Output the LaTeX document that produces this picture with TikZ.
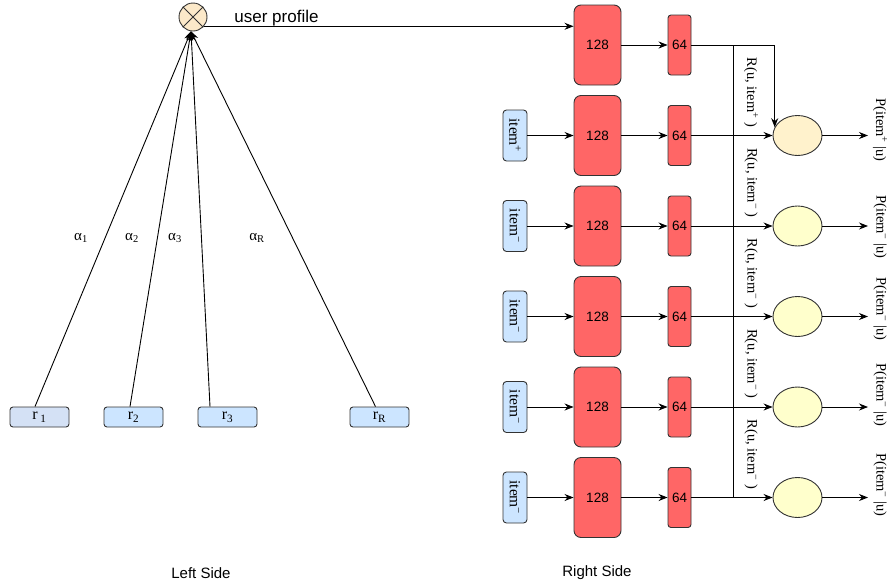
\documentclass[tikz,border=0pt]{standalone}
\usepackage{fontspec}
\setmainfont{Liberation Serif}
\setsansfont{Liberation Sans}
\usetikzlibrary{arrows.meta,calc,shapes.geometric}
\definecolor{redbox}{HTML}{FF6666}
\definecolor{bluebox}{HTML}{CCE5FF}
\definecolor{lavbox}{HTML}{D4E1F5}
\definecolor{circfill}{HTML}{FCE9C9}
\definecolor{ellorange}{HTML}{FFF2CC}
\definecolor{ellyellow}{HTML}{FFFFCC}
\definecolor{edgecol}{HTML}{333333}
\begin{document}
\begin{tikzpicture}[x=1pt,y=-1pt,line width=0.9pt,
  arr/.style={-{Stealth[length=9pt,width=7pt]}},
  bigbox/.style={draw=edgecol,fill=redbox,rounded corners=7pt,minimum width=47pt,minimum height=80pt,inner sep=0pt,font=\sffamily\fontsize{13.5}{15}\selectfont},
  smallbox/.style={draw=edgecol,fill=redbox,rounded corners=3pt,minimum width=23pt,minimum height=60pt,inner sep=0pt,font=\sffamily\fontsize{13.5}{15}\selectfont},
  itembox/.style={draw=edgecol,fill=bluebox,rounded corners=3.5pt,rotate=-90,minimum width=51pt,minimum height=24pt,inner sep=0pt,font=\fontsize{15.5}{17}\selectfont},
  rbox/.style={draw=edgecol,rounded corners=3pt,minimum width=59pt,minimum height=20pt,inner sep=0pt,font=\fontsize{16}{18}\selectfont},
  outell/.style={ellipse,draw=edgecol,minimum width=49pt,minimum height=40pt,inner sep=0pt},
  lab/.style={rotate=-90,font=\fontsize{14.5}{16}\selectfont,inner sep=0pt},
  alab/.style={font=\fontsize{15}{17}\selectfont,inner sep=0pt},
  side/.style={font=\sffamily\fontsize{15}{17}\selectfont,inner sep=0pt}
]
\useasboundingbox (0,0) rectangle (891,587);

% ---------- right side ----------
\foreach \i/\y in {1/45,2/135.5,3/226,4/316.5,5/407,6/497.5} {
  \node[bigbox] (b\i) at (597.5,\y) {128};
  \node[smallbox] (s\i) at (679.5,\y) {64};
  \draw[arr] (b\i) -- (s\i);
}
\node[itembox] (it2) at (515,135.5) {item\textsuperscript{+}};
\foreach \i/\y in {3/226,4/316.5,5/407,6/497.5}
  \node[itembox] (it\i) at (515,\y) {item\textsuperscript{−}};
\foreach \i in {2,...,6}
  \draw[arr] (it\i) -- (b\i);

\node[outell,fill=ellorange] (e2) at (797.5,135.5) {};
\foreach \i/\y in {3/226,4/316.5,5/407,6/497.5}
  \node[outell,fill=ellyellow] (e\i) at (797.5,\y) {};

\coordinate (vt) at (733,45);
\coordinate (vb) at (733,497.5);
\draw (vt) -- (vb);
\draw[arr] (s1) -| (e2.160);
\foreach \i in {2,...,6}
  \draw[arr] (s\i) -- (e\i);

\foreach \i/\y in {2/135.5,3/226,4/316.5,5/407,6/497.5} {
  \coordinate (o\i) at (868,\y);
  \draw[arr] (e\i) -- (o\i);
}

\node[lab] (R2) at (751,92.5) {R(u, item\textsuperscript{+} )};
\node[lab] (R3) at (751,183) {R(u, item\textsuperscript{−} )};
\node[lab] (R4) at (751,273.5) {R(u, item\textsuperscript{−} )};
\node[lab] (R5) at (751,364) {R(u, item\textsuperscript{−} )};
\node[lab] (R6) at (751,454.5) {R(u, item\textsuperscript{−} )};

\node[lab] (P2) at (880,130) {P(item\textsuperscript{+} |u)};
\node[lab] (P3) at (880,227) {P(item\textsuperscript{−} |u)};
\node[lab] (P4) at (880,309) {P(item\textsuperscript{−} |u)};
\node[lab] (P5) at (880,395) {P(item\textsuperscript{−} |u)};
\node[lab] (P6) at (880,485) {P(item\textsuperscript{−} |u)};

% ---------- left side ----------
\node[circle,draw=edgecol,fill=circfill,minimum size=28pt,inner sep=0pt] (mul) at (193,17) {};
\draw[edgecol] (mul.north west) -- (mul.south east);
\draw[edgecol] (mul.north east) -- (mul.south west);
\node[anchor=base west,font=\sffamily\fontsize{17}{19}\selectfont,inner sep=0pt] (up) at (234,22) {user profile};
\draw[arr] (mul.-40) -- (mul.-40 -| b1.west);

\node[rbox,fill=lavbox] (r1) at (39.5,417) {r\,\textsubscript{1}};
\node[rbox,fill=bluebox] (r2) at (133.5,417) {r\textsubscript{2}};
\node[rbox,fill=bluebox] (r3) at (227.5,417) {r\textsubscript{3}};
\node[rbox,fill=bluebox] (rR) at (379.5,417) {r\textsubscript{R}};

\draw[arr] ($(r1.north)+(-4.5,0)$) -- (mul.262);
\draw[arr] ($(r2.north)+(-3.5,0)$) -- (mul.262);
\draw[arr] ($(r3.north)+(-17.5,0)$) -- (mul.262);
\draw[arr] ($(rR.north)+(-4,0)$) -- (mul.262);

\node[alab] (a1) at (81,238) {α\textsubscript{1}};
\node[alab] (a2) at (132,238) {α\textsubscript{2}};
\node[alab] (a3) at (175,238) {α\textsubscript{3}};
\node[alab] (aR) at (257,238) {α\textsubscript{R}};

\node[side] (ls) at (201,573) {Left Side};
\node[side] (rs) at (597,573) {Right Side};
\end{tikzpicture}
\end{document}
